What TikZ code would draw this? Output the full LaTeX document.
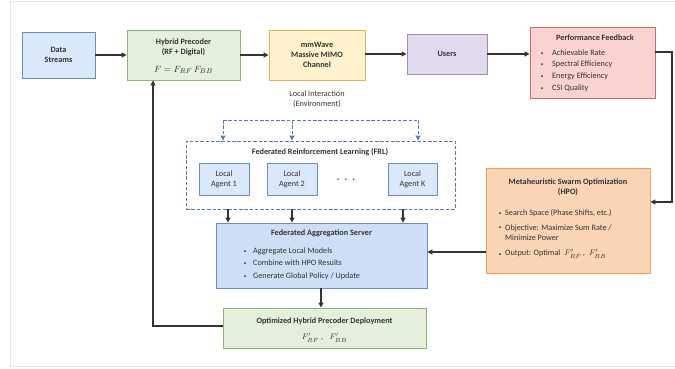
\documentclass[tikz,border=0pt]{standalone}
\usepackage{fontspec}
\setmainfont{Carlito}
\usetikzlibrary{arrows.meta}
\definecolor{bfill}{HTML}{DAE8FC}\definecolor{bdraw}{HTML}{6C8EBF}
\definecolor{sfill}{HTML}{CDDFF7}
\definecolor{gfill}{HTML}{E4EFDC}\definecolor{gdraw}{HTML}{8DB37C}
\definecolor{yfill}{HTML}{FFF2CC}\definecolor{ydraw}{HTML}{D6B656}
\definecolor{pfill}{HTML}{E1D9EE}\definecolor{pdraw}{HTML}{9C89BE}
\definecolor{rfill}{HTML}{F8D3D0}\definecolor{rdraw}{HTML}{D06A64}
\definecolor{ofill}{HTML}{FAD5B5}\definecolor{odraw}{HTML}{EDA264}
\definecolor{txt}{HTML}{333333}
\definecolor{ln}{HTML}{333333}
\definecolor{dsh}{HTML}{5A7BB0}
\tikzset{
  box/.style={draw, line width=0.9pt, inner sep=0pt, text=txt, align=center, font=\bfseries\fontsize{8.2}{10}\selectfont},
  lbl/.style={inner sep=0pt, text=txt, font=\fontsize{8.2}{10}\selectfont},
  ttl/.style={inner sep=0pt, text=txt, font=\bfseries\fontsize{8.2}{10}\selectfont},
  arr/.style={draw=ln, line width=1.2pt, -{Triangle[length=5pt,width=5pt]}},
  dline/.style={draw=dsh, line width=0.9pt, dash pattern=on 3.5pt off 1.8pt},
  darr/.style={dline, -{Triangle[length=5pt,width=5pt]}},
  bul/.style={circle, fill=txt, inner sep=0pt, minimum size=2pt},
}
\begin{document}
\begin{tikzpicture}[x=1pt,y=-1pt]
\useasboundingbox (0,0) rectangle (675,368);
\draw[black!10, line width=0.8pt] (675,1) -- (10,1) -- (10,366) -- (675,366);

% top row
\node[box, fill=bfill, draw=bdraw, minimum width=73pt, minimum height=46pt] (ds) at (58.5,55) {Data\\Streams};
\node[box, fill=gfill, draw=gdraw, minimum width=113pt, minimum height=50pt] (hp) at (183.5,55) {};
\node[ttl, align=center] (hpt) at (183.5,47) {Hybrid Precoder\\(RF + Digital)};
\node[lbl] (hpf) at (183.5,70) {\fontsize{9.5}{10}\selectfont $F = F_{RF}\,F_{BB}$};
\node[box, fill=yfill, draw=ydraw, minimum width=96pt, minimum height=50pt] (mm) at (317,55) {mmWave\\Massive MIMO\\Channel};
\node[box, fill=pfill, draw=pdraw, minimum width=80pt, minimum height=40pt] (us) at (447,54) {Users};
\node[box, fill=rfill, draw=rdraw, minimum width=125pt, minimum height=71pt] (pf) at (592.5,62.5) {};
\node[ttl] (pft) at (595,38) {Performance Feedback};
\foreach \i/\y/\t in {1/53/{Achievable Rate}, 2/64/{Spectral Efficiency}, 3/76/{Energy Efficiency}, 4/88/{CSI Quality}}{
  \node[bul] (pfb\i) at (542,\y) {};
  \node[lbl, anchor=west] (pfl\i) at (552,\y) {\t};
}

\draw[arr] (ds.east |- 0,55) -- (hp.west |- 0,55);
\draw[arr] (hp.east |- 0,55) -- (mm.west |- 0,55);
\draw[arr] (mm.east |- 0,54) -- (us.west |- 0,54);
\draw[arr] (us.east |- 0,54) -- (pf.west |- 0,54);

% HPO
\node[box, fill=ofill, draw=odraw, minimum width=164pt, minimum height=105pt] (hpo) at (568,220.5) {};
\node[ttl, align=center] (hpot) at (568,187.5) {Metaheuristic Swarm Optimization\\(HPO)};
\node[bul] (hb1) at (500,213) {};
\node[lbl, anchor=west] (hl1) at (505,213) {Search Space (Phase Shifts, etc.)};
\node[bul] (hb2) at (500,227) {};
\node[lbl, anchor=west, align=left] (hl2) at (505,233) {Objective: Maximize Sum Rate /\\Minimize Power};
\node[bul] (hb3) at (500,254) {};
\node[lbl, anchor=west] (hl3) at (505,254) {Output: Optimal\enspace $F'_{RF}$\,,\enspace $F'_{BB}$};

\coordinate (c1) at (672,52);
\coordinate (c2) at (672,202);
\draw[arr] (pf.east |- c1) -- (c1) -- (c2) -- (hpo.east |- c2);

% Local interaction
\node[lbl, align=center] (li) at (317,99) {Local Interaction\\(Environment)};
\node[dline, inner sep=0pt, minimum width=269pt, minimum height=68pt] (frl) at (320.5,175) {};
\node[ttl] (frlt) at (320,152) {Federated Reinforcement Learning (FRL)};
\node[box, font=\fontsize{8.2}{10}\selectfont, fill=bfill, draw=bdraw, line width=0.7pt, minimum width=50pt, minimum height=32pt] (a1) at (224,179) {Local\\Agent 1};
\node[box, font=\fontsize{8.2}{10}\selectfont, fill=bfill, draw=bdraw, line width=0.7pt, minimum width=50pt, minimum height=32pt] (a2) at (292,179) {Local\\Agent 2};
\node[lbl, font=\bfseries\fontsize{10}{10}\selectfont] (dots) at (346,180) {.\enspace.\enspace.};
\node[box, font=\fontsize{8.2}{10}\selectfont, fill=bfill, draw=bdraw, line width=0.7pt, minimum width=49pt, minimum height=32pt] (ak) at (412.5,179) {Local\\Agent K};

\coordinate (d1) at (223,120);
\coordinate (d2) at (292,120);
\coordinate (d3) at (418,120);
\draw[dline] (d1) -- (d3);
\draw[darr] (d1) -- (d1 |- frl.north);
\draw[darr] (d2) -- (d2 |- frl.north);
\draw[darr] (d3) -- (d3 |- frl.north);

% server
\node[box, fill=sfill, draw=bdraw, minimum width=211pt, minimum height=65pt] (srv) at (321.5,255.5) {};
\node[ttl] (srvt) at (321.5,233) {Federated Aggregation Server};
\foreach \i/\y/\t in {1/251/{Aggregate Local Models}, 2/263/{Combine with HPO Results}, 3/276/{Generate Global Policy / Update}}{
  \node[bul] (sb\i) at (245,\y) {};
  \node[lbl, anchor=west] (sl\i) at (253,\y) {\t};
}
\coordinate (e1) at (228,0);
\coordinate (e2) at (292,0);
\coordinate (e3) at (403,0);
\draw[arr] (e1 |- frl.south) -- (e1 |- srv.north);
\draw[arr] (e2 |- frl.south) -- (e2 |- srv.north);
\draw[arr] (e3 |- frl.south) -- (e3 |- srv.north);

\coordinate (h1) at (0,252);
\draw[arr] (hpo.west |- h1) -- (srv.east |- h1);

% deployment
\node[box, fill=gfill, draw=gdraw, minimum width=203pt, minimum height=40pt] (dep) at (324.5,328) {};
\node[ttl] (dept) at (324.5,321) {Optimized Hybrid Precoder Deployment};
\node[lbl] (depf) at (324.5,338) {$F'_{RF}$\;,\;\; $F'_{BB}$};
\draw[arr] (srv.south -| 321,0) -- (dep.north -| 321,0);

\coordinate (f1) at (153,326);
\draw[arr] (dep.west |- f1) -- (f1) -- (f1 |- hp.south);
\end{tikzpicture}
\end{document}
